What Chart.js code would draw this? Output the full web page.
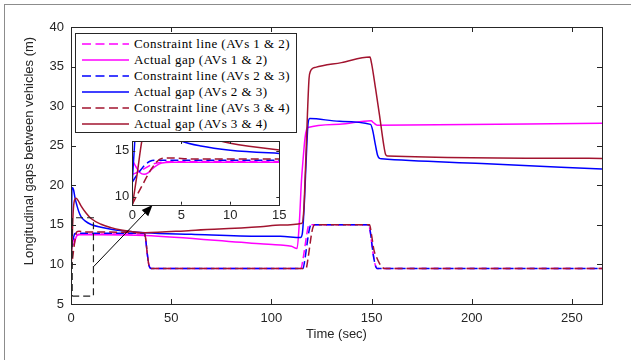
<!DOCTYPE html>
<html>
<head>
<meta charset="utf-8">
<script src="https://cdn.jsdelivr.net/npm/chart.js@4.4.1/dist/chart.umd.min.js"></script>
<style>
  body { margin: 0; background: #fff; }
  #wrap { position: relative; width: 631px; height: 360px; overflow: hidden; }
  #frame { position: absolute; left: 4px; top: 4px; width: 700px; height: 400px;
           border-left: 1px solid #8c8c8c; border-top: 1px solid #8c8c8c; }
  #main { position: absolute; left: 0; top: 0; }
  #inset { position: absolute; left: 100px; top: 130px; }
  #legend { position: absolute; left: 75px; top: 33px; width: 220px; height: 98px;
            border: 1px solid #262626; background: #fff;
            font-family: 'Liberation Serif', serif; font-size: 13px; letter-spacing: 0.45px; color: #000; }
  .row { position: absolute; left: 0; height: 16px; line-height: 16px; white-space: nowrap; }
  .row svg { position: absolute; left: 6px; top: 0; }
  .row span { position: absolute; left: 58px; top: 0; }
</style>
</head>
<body>
<div id="wrap">
  <div id="frame"></div>
  <canvas id="main" width="631" height="360"></canvas>
  <canvas id="inset" width="190" height="100"></canvas>
  <div id="legend"></div>
</div>
<script>
// Данные: время (с) и зазор (м)
var c12T = [0, 1, 2, 3, 4, 36.5, 37.2, 38, 38.8, 39.5, 40, 114.8, 115.6, 116.6, 117.6, 118.3, 118.9, 148.5, 149.3, 150.2, 151.1, 152, 152.7, 265];
var c12  = [12.4, 12.9, 13.5, 13.75, 13.8, 13.85, 13.3, 11.5, 10.0, 9.55, 9.5, 9.5, 10.4, 12.0, 13.7, 14.7, 15.0, 15.0, 14.2, 12.4, 10.8, 9.8, 9.5, 9.5];

var g12T = [0, 0.4, 0.8, 1.2, 1.6, 2, 2.5, 3, 4, 15, 37, 94.5, 104.5, 110, 112.8, 114, 115, 115.8, 116.8, 117.6, 118.2, 134, 149.8, 151, 152.8, 265];
var g12  = [13.95, 13.2, 12.6, 12.45, 12.6, 13.0, 13.4, 13.65, 13.75, 13.75, 13.65, 12.6, 12.45, 12.3, 12.0, 15.5, 20.5, 23.2, 26.0, 27.1, 27.3, 27.72, 28.15, 27.9, 27.6, 27.85];

var c23T = [0, 0.5, 1, 1.3, 1.8, 2.5, 36.5, 37.2, 38, 38.8, 39.5, 40, 115.8, 116.7, 117.7, 118.7, 119.4, 120, 148.6, 149.4, 150.3, 151.2, 152, 152.6, 265];
var c23  = [11.6, 12.4, 13.1, 13.45, 13.85, 13.95, 13.95, 13.3, 11.5, 10.0, 9.55, 9.5, 9.5, 10.6, 12.4, 14.1, 14.85, 15.0, 15.0, 14.1, 12.3, 10.7, 9.8, 9.5, 9.5];

var g23T = [0, 0.25, 0.5, 0.9, 1.3, 2, 3, 4, 5, 7, 10, 15, 20, 28, 37, 60, 94.5, 104.5, 114.5, 115.5, 116.5, 117.5, 118.3, 119.2, 134, 149.5, 150.5, 152, 153, 154, 155, 205, 265];
var g23  = [11.6, 16.0, 19.6, 19.7, 19.4, 18.4, 17.4, 16.6, 16.05, 15.5, 15.05, 14.7, 14.45, 14.2, 14.0, 13.8, 13.55, 13.55, 13.4, 14.0, 18.0, 24.0, 27.8, 28.45, 28.08, 27.7, 27.0, 25.0, 23.8, 23.4, 23.35, 22.75, 22.05];

var c34T = [0, 0.5, 1, 1.5, 2, 2.5, 3, 4, 6, 36.5, 37.2, 38, 38.8, 39.5, 40, 117.3, 118.2, 119.2, 120.2, 121, 121.6, 149, 150, 151.2, 152.5, 154, 155.5, 156.5, 265];
var c34  = [9.2, 10.2, 11.2, 12.2, 13.1, 13.8, 14.15, 14.2, 14.1, 14.0, 13.4, 11.5, 10.0, 9.55, 9.5, 9.5, 10.6, 12.4, 14.1, 14.85, 15.0, 15.0, 13.7, 11.8, 10.9, 10.1, 9.6, 9.5, 9.5];

var g34T = [0, 0.5, 1, 1.5, 2.5, 3.5, 5, 7.5, 10, 15, 20, 25, 30, 37, 60, 94.5, 104.5, 115.3, 116.2, 117, 118, 118.8, 119.5, 120.5, 122, 135, 149.2, 150, 152, 154, 156, 157, 158, 265];
var g34  = [9.0, 12.5, 16.2, 17.8, 18.35, 18.1, 17.4, 16.5, 15.8, 15.08, 14.65, 14.35, 14.15, 14.0, 14.3, 14.75, 14.97, 15.2, 17, 22, 29, 33.5, 34.4, 34.75, 34.9, 35.5, 36.2, 35.4, 32.2, 28.8, 25.2, 23.9, 23.7, 23.4];

// рамка увеличенной области и стрелка к врезке
var zoomBoxT = [0.6, 11.2, 11.2, 0.6, 0.6];
var zoomBoxV = [6.0, 6.0, 15.9, 15.9, 6.0];
var arrowT = [11.2, 40.7];
var arrowV = [9.7, 17.5];

var xTicks = [0, 50, 100, 150, 200, 250];
var yTicks = [5, 10, 15, 20, 25, 30, 35, 40];
var insetXTicks = [0, 5, 10, 15];
var insetYTicks = [10, 15];

var MAGENTA = '#ff00ff', BLUE = '#0000ff', DARKRED = '#a2142f';
var DASH = [8, 4];

var series = [
  { label: 'Constraint line (AVs 1 & 2)', t: c12T, v: c12, color: MAGENTA, dash: DASH },
  { label: 'Actual gap (AVs 1 & 2)',      t: g12T, v: g12, color: MAGENTA, dash: [] },
  { label: 'Constraint line (AVs 2 & 3)', t: c23T, v: c23, color: BLUE,    dash: DASH },
  { label: 'Actual gap (AVs 2 & 3)',      t: g23T, v: g23, color: BLUE,    dash: [] },
  { label: 'Constraint line (AVs 3 & 4)', t: c34T, v: c34, color: DARKRED, dash: DASH },
  { label: 'Actual gap (AVs 3 & 4)',      t: g34T, v: g34, color: DARKRED, dash: [] }
];

Chart.defaults.font.family = "'Liberation Sans', Arial, sans-serif";
Chart.defaults.color = '#262626';
Chart.defaults.animation = false;

function pts(ts, vs) {
  return ts.map(function(t, i) { return { x: t, y: vs[i] }; });
}

function makeDatasets() {
  return series.map(function(s, i) {
    return {
      label: s.label,
      data: pts(s.t, s.v),
      borderColor: s.color,
      borderDash: s.dash,
      borderWidth: 1.5,
      pointRadius: 0,
      fill: false,
      cubicInterpolationMode: 'monotone',
      order: series.length - i
    };
  });
}

function keepTicks(list) {
  return function(scale) {
    scale.ticks = list.map(function(v) { return { value: v }; });
  };
}

// рамка осей и засечки внутрь, как в MATLAB
var boxTicks = {
  id: 'boxTicks',
  beforeDatasetsDraw: function(chart, args, o) {
    if (!o.fill) return;
    var a = chart.chartArea, ctx = chart.ctx;
    ctx.save();
    ctx.fillStyle = '#fff';
    ctx.fillRect(a.left, a.top, a.right - a.left, a.bottom - a.top);
    ctx.restore();
  },
  afterDatasetsDraw: function(chart, args, o) {
    var ctx = chart.ctx, a = chart.chartArea, sx = chart.scales.x, sy = chart.scales.y;
    ctx.save();
    ctx.strokeStyle = '#262626';
    ctx.lineWidth = 1;
    ctx.setLineDash([]);
    ctx.beginPath();
    sx.ticks.forEach(function(tk) {
      var px = Math.round(sx.getPixelForValue(tk.value)) + 0.5;
      ctx.moveTo(px, a.bottom); ctx.lineTo(px, a.bottom - o.len);
      ctx.moveTo(px, a.top); ctx.lineTo(px, a.top + o.len);
    });
    sy.ticks.forEach(function(tk) {
      var py = Math.round(sy.getPixelForValue(tk.value)) + 0.5;
      ctx.moveTo(a.left, py); ctx.lineTo(a.left + o.len, py);
      ctx.moveTo(a.right, py); ctx.lineTo(a.right - o.len, py);
    });
    ctx.stroke();
    ctx.strokeRect(Math.round(a.left) + 0.5, Math.round(a.top) + 0.5,
                   Math.round(a.right - a.left), Math.round(a.bottom - a.top));
    ctx.restore();
  }
};

// стрелка от рамки к врезке
var arrowPlugin = {
  id: 'arrow',
  afterDatasetsDraw: function(chart) {
    var ctx = chart.ctx, sx = chart.scales.x, sy = chart.scales.y;
    var x0 = sx.getPixelForValue(arrowT[0]), y0 = sy.getPixelForValue(arrowV[0]);
    var x1 = sx.getPixelForValue(arrowT[1]), y1 = sy.getPixelForValue(arrowV[1]);
    var ang = Math.atan2(y1 - y0, x1 - x0), L = 11, W = 4.5;
    var bx = x1 - L * Math.cos(ang), by = y1 - L * Math.sin(ang);
    ctx.save();
    ctx.strokeStyle = '#000'; ctx.fillStyle = '#000'; ctx.lineWidth = 1;
    ctx.beginPath(); ctx.moveTo(x0, y0); ctx.lineTo(bx, by); ctx.stroke();
    ctx.beginPath();
    ctx.moveTo(x1, y1);
    ctx.lineTo(bx + W * Math.sin(ang), by - W * Math.cos(ang));
    ctx.lineTo(bx - W * Math.sin(ang), by + W * Math.cos(ang));
    ctx.closePath(); ctx.fill();
    ctx.restore();
  }
};

var mainSets = makeDatasets();
mainSets.push({
  label: 'zoom box',
  data: pts(zoomBoxT, zoomBoxV),
  borderColor: '#222',
  borderDash: [7, 4],
  borderWidth: 1.2,
  pointRadius: 0,
  fill: false,
  tension: 0,
  order: 0
});

new Chart(document.getElementById('main'), {
  type: 'line',
  data: { datasets: mainSets },
  options: {
    responsive: false,
    layout: { padding: { left: 0, top: 27, right: 29, bottom: 0 } },
    plugins: { legend: { display: false }, tooltip: { enabled: false }, boxTicks: { len: 5, fill: false } },
    scales: {
      x: {
        type: 'linear', min: 0, max: 265,
        afterBuildTicks: keepTicks(xTicks),
        afterFit: function(s) { s.height = 56; },
        grid: { display: false, drawTicks: false },
        border: { display: false },
        ticks: { padding: 7, font: { size: 13 }, color: '#262626' },
        title: { display: true, text: 'Time (sec)', font: { size: 13 }, color: '#262626', padding: { top: 0, bottom: 18 } }
      },
      y: {
        type: 'linear', min: 5, max: 40,
        afterBuildTicks: keepTicks(yTicks),
        afterFit: function(s) { s.width = 71; },
        grid: { display: false, drawTicks: false },
        border: { display: false },
        ticks: { padding: 7, font: { size: 13 }, color: '#262626' },
        // подпись в оригинале смещена вверх относительно центра оси
        title: { display: true, text: '\u00a0\u00a0\u00a0\u00a0\u00a0\u00a0\u00a0\u00a0Longitudinal gaps between vehicles (m)',
                 font: { size: 13 }, color: '#262626', padding: { top: 22, bottom: 0 } }
      }
    }
  },
  plugins: [boxTicks, arrowPlugin]
});

new Chart(document.getElementById('inset'), {
  type: 'line',
  data: { datasets: makeDatasets() },
  options: {
    responsive: false,
    layout: { padding: { left: 0, top: 11, right: 10.7, bottom: 0 } },
    plugins: { legend: { display: false }, tooltip: { enabled: false }, boxTicks: { len: 3, fill: true } },
    scales: {
      x: {
        type: 'linear', min: 0, max: 15,
        afterBuildTicks: keepTicks(insetXTicks),
        afterFit: function(s) { s.height = 25.3; },
        grid: { display: false, drawTicks: false },
        border: { display: false },
        ticks: { padding: 3, font: { size: 13 }, color: '#262626' }
      },
      y: {
        type: 'linear', min: 9.13, max: 16.05,
        afterBuildTicks: keepTicks(insetYTicks),
        afterFit: function(s) { s.width = 32.3; },
        grid: { display: false, drawTicks: false },
        border: { display: false },
        ticks: { padding: 3, font: { size: 13 }, color: '#262626' }
      }
    }
  },
  plugins: [boxTicks]
});

// легенда внутри осей
var legend = document.getElementById('legend');
series.forEach(function(s, i) {
  var row = document.createElement('div');
  row.className = 'row';
  row.style.top = (2.3 + i * 15.9) + 'px';
  row.style.width = '218px';
  var dash = s.dash.length ? ' stroke-dasharray="9 4.5"' : '';
  row.innerHTML = '<svg width="48" height="16"><line x1="0" y1="8" x2="47" y2="8" stroke="' + s.color +
    '" stroke-width="1.5"' + dash + '/></svg><span></span>';
  row.querySelector('span').textContent = s.label;
  legend.appendChild(row);
});
</script>
</body>
</html>
